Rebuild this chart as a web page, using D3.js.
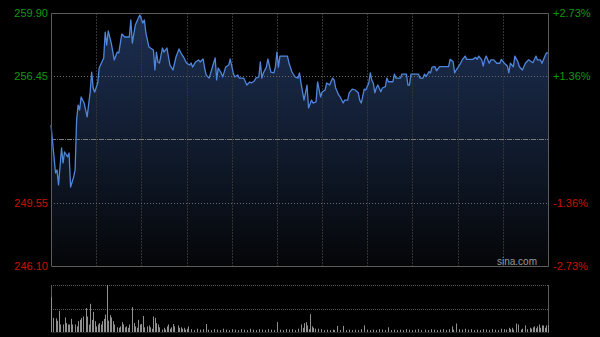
<!DOCTYPE html>
<html>
<head>
<meta charset="utf-8">
<script src="https://cdn.jsdelivr.net/npm/d3@7"></script>
<style>
  html, body { margin: 0; padding: 0; background: #000; }
  svg { display: block; }
</style>
</head>
<body>
<div id="chart"></div>
<script>
// intraday price, minute index from the open (330 trading minutes)
var minuteIdx = [0,3,4,5,7,8,9,11,12,13,15,16,17,18,19,20,22,24,26,27,28,29,31,32,35,36,37,38,40,42,44,45,47,49,52,53,54,56,58,59,61,62,63,65,68,
  69,70,71,72,74,75,77,78,79,81,83,85,87,88,90,92,93,94,96,98,99,101,102,103,105,107,109,110,111,113,114,116,118,119,121,122,124,125,128,130,132,133,135,
  136,138,139,140,141,143,144,146,148,149,150,151,152,154,157,158,160,162,164,165,166,168,170,171,173,174,176,177,179,180,182,183,185,187,188,189,191,192,194,195,197,198,
  200,202,204,205,206,208,209,211,212,213,214,215,216,217,219,220,222,223,224,227,228,229,232,233,236,237,238,239,244,245,247,248,249,251,252,253,255,256,258,262,264,265,
  267,268,269,270,272,273,275,276,278,280,282,283,284,286,287,288,289,291,292,294,296,298,299,301,303,304,305,307,308,310,311,313,315,317,318,320,322,323,325,326,328,329,330];
var prices = [253.79,251.17,251.34,250.52,252.54,251.72,252.32,252.05,252.26,250.41,250.95,251.34,254.06,254.88,254.61,255.32,254.99,254.23,255.59,256.68,255.81,255.59,256.08,256.90,257.45,258.86,258.15,258.92,258.26,257.34,257.77,257.72,258.75,258.59,258.59,259.52,258.26,259.25,259.63,259.79,259.35,259.52,258.81,258.05,257.88,
  256.79,257.77,257.23,257.17,257.99,257.77,257.99,257.50,257.06,256.79,257.50,257.94,257.61,257.50,257.17,257.06,257.17,256.95,257.23,257.34,257.23,257.39,256.90,256.52,256.35,256.90,257.45,256.25,256.90,256.63,256.41,256.95,257.06,257.39,256.63,256.41,256.52,256.35,256.35,255.97,256.14,256.08,256.19,
  256.35,256.41,257.23,256.35,256.63,256.95,257.39,256.68,256.63,256.95,257.77,256.95,257.55,257.55,257.55,257.17,256.68,256.41,256.35,256.63,256.08,255.15,255.97,254.72,255.15,254.99,255.05,256.14,255.32,255.59,255.70,256.08,255.97,256.35,256.25,255.81,255.43,255.32,254.99,255.15,255.15,255.54,
  255.75,255.70,255.55,255.15,254.99,255.75,255.70,256.08,256.63,256.25,256.08,255.55,255.81,255.97,255.61,255.81,255.88,256.35,256.15,256.15,256.57,256.35,256.35,256.57,256.57,255.97,255.97,256.57,256.57,256.35,256.35,256.57,256.43,256.70,256.63,256.95,256.97,256.75,256.97,256.97,256.97,257.37,
  257.24,256.63,256.79,256.90,257.17,257.34,257.55,257.37,257.37,257.37,257.48,257.37,257.55,257.34,257.01,257.37,257.55,257.16,257.34,257.34,257.16,257.16,257.37,257.16,257.01,256.63,257.16,256.97,257.55,257.24,256.97,256.79,257.16,257.34,257.30,257.19,257.55,257.34,257.34,257.16,257.55,257.73,257.73];

// volume bars (minute index, volume)
var volMinutes = [0,1,3,4,5,6,8,9,10,11,12,13,14,16,17,18,19,20,21,23,24,25,26,27,28,29,30,31,32,33,34,35,36,37,38,39,40,41,42,44,45,46,47,48,49,50,51,52,54,55,56,57,58,59,60,61,62,64,65,66,67,68,69,70,71,72,74,75,76,77,78,79,80,81,82,84,85,86,87,88,89,90,91,
  93,95,97,99,101,103,104,106,108,110,112,114,116,118,120,122,124,126,128,130,132,134,136,138,140,142,144,146,148,150,152,154,156,158,160,162,164,166,167,168,169,170,171,172,173,174,175,177,179,181,183,185,187,188,190,192,194,196,198,
  200,202,204,206,208,210,212,214,216,218,220,222,224,226,228,230,232,234,236,238,240,242,244,246,248,250,252,254,256,258,260,262,264,266,267,269,271,273,275,277,279,281,283,285,287,289,291,293,295,297,299,
  301,302,304,305,306,307,309,310,312,313,315,316,318,319,320,321,322,323,324,325,326,327,328,329,330];
var volValues = [740,300,290,240,450,160,160,310,190,160,160,280,160,160,120,230,260,300,330,510,330,160,600,260,430,230,120,160,190,160,230,280,370,1000,240,360,310,230,160,100,90,120,210,160,100,120,90,160,530,190,120,90,260,160,170,340,100,120,140,100,70,330,300,190,160,100,50,90,50,120,160,70,100,170,120,140,90,100,70,90,50,70,120,
  60,40,70,50,60,170,50,40,60,50,40,70,50,40,60,50,40,60,50,40,70,50,40,60,50,40,60,50,40,210,50,40,60,50,60,40,70,160,90,190,210,140,60,380,120,90,70,70,60,40,50,40,50,40,130,40,130,40,50,
  40,50,40,60,140,50,40,50,40,60,50,40,100,40,50,40,50,40,60,50,40,50,60,40,50,40,60,50,40,50,60,40,60,120,50,180,60,50,70,50,60,40,50,40,60,50,40,60,50,40,70,
  60,50,90,60,90,50,180,160,50,70,140,60,90,70,100,120,80,120,160,90,140,140,90,140,150];

var prevClose = 253.00;
var priceMin = 246.10, priceMax = 259.90;
var leftTicks = [259.90, 256.45, 249.55, 246.10];
var rightTickLabels = ["+2.73%", "+1.36%", "-1.36%", "-2.73%"];
var totalMinutes = 330;
var gridMinutes = [30, 60, 90, 120, 150, 180, 210, 240, 270, 300];

var W = 600, H = 337;
var plot = {left: 51, right: 548, top: 13, bottom: 266};
var vol = {top: 285, bottom: 332};

var svg = d3.select("#chart").append("svg")
    .attr("width", W)
    .attr("height", H)
    .style("background", "#000");

var x = d3.scaleLinear().domain([0, totalMinutes]).range([plot.left, plot.right]);
var y = d3.scaleLinear().domain([priceMin, priceMax]).range([plot.bottom, plot.top]);
var yv = d3.scaleLinear().domain([0, d3.max(volValues)]).range([vol.bottom, vol.top]);

var data = minuteIdx.map(function(m, i) { return [m, prices[i]]; });

// area gradient
var defs = svg.append("defs");
var grad = defs.append("linearGradient")
    .attr("id", "areaGrad")
    .attr("gradientUnits", "userSpaceOnUse")
    .attr("x1", 0).attr("y1", plot.top)
    .attr("x2", 0).attr("y2", plot.bottom);
grad.append("stop").attr("offset", "0%").attr("stop-color", "#1c2f52");
grad.append("stop").attr("offset", "55%").attr("stop-color", "#101a2c");
grad.append("stop").attr("offset", "100%").attr("stop-color", "#050608");

var area = d3.area()
    .x(function(d) { return x(d[0]); })
    .y0(plot.bottom)
    .y1(function(d) { return y(d[1]); });

svg.append("path")
    .attr("d", area(data))
    .attr("fill", "url(#areaGrad)");

// vertical grid
svg.append("g").selectAll("line")
    .data(gridMinutes)
    .enter().append("line")
    .attr("x1", function(d) { return Math.round(x(d)) + 0.5; })
    .attr("x2", function(d) { return Math.round(x(d)) + 0.5; })
    .attr("y1", plot.top)
    .attr("y2", plot.bottom)
    .attr("stroke", "#333")
    .attr("stroke-dasharray", "2,1");

// horizontal dotted grid
svg.append("g").selectAll("line")
    .data([leftTicks[1], leftTicks[2]])
    .enter().append("line")
    .attr("x1", plot.left)
    .attr("x2", plot.right)
    .attr("y1", function(d) { return Math.round(y(d)) + 0.5; })
    .attr("y2", function(d) { return Math.round(y(d)) + 0.5; })
    .attr("stroke", "#6a6a6a")
    .attr("stroke-dasharray", "1,2");

// previous close line
svg.append("line")
    .attr("x1", plot.left)
    .attr("x2", plot.right)
    .attr("y1", Math.round(y(prevClose)) + 0.5)
    .attr("y2", Math.round(y(prevClose)) + 0.5)
    .attr("stroke", "#7a7a7a")
    .attr("stroke-dasharray", "5,1,1,1");

// price line
var line = d3.line()
    .x(function(d) { return x(d[0]); })
    .y(function(d) { return y(d[1]); });

svg.append("path")
    .attr("d", line(data))
    .attr("fill", "none")
    .attr("stroke", "#4f86dc")
    .attr("stroke-width", 1.3)
    .attr("stroke-linejoin", "round");

// frame
svg.append("path")
    .attr("d", "M" + (plot.left + 0.5) + "," + plot.bottom + "V" + (plot.top + 0.5) + "H" + (plot.right + 0.5) + "V" + (plot.bottom + 0.5) + "H" + (plot.left + 0.5))
    .attr("fill", "none")
    .attr("stroke", "#5c5c5c");

// labels
var font = "Arial, 'Liberation Sans', sans-serif";
svg.append("g").selectAll("text")
    .data(leftTicks)
    .enter().append("text")
    .attr("x", 48)
    .attr("y", function(d) { return y(d); })
    .attr("dy", "0.35em")
    .attr("text-anchor", "end")
    .attr("font-family", font)
    .attr("font-size", "11px")
    .attr("fill", function(d) { return d > prevClose ? "#119911" : "#cc1100"; })
    .text(function(d) { return d.toFixed(2); });

svg.append("g").selectAll("text")
    .data(rightTickLabels)
    .enter().append("text")
    .attr("x", 553)
    .attr("y", function(d, i) { return y(leftTicks[i]); })
    .attr("dy", "0.35em")
    .attr("font-family", font)
    .attr("font-size", "11px")
    .attr("fill", function(d) { return d[0] == "+" ? "#119911" : "#cc1100"; })
    .text(function(d) { return d; });

svg.append("text")
    .attr("x", 537)
    .attr("y", 265)
    .attr("text-anchor", "end")
    .attr("font-family", font)
    .attr("font-size", "10px")
    .attr("fill", "#9a9a9a")
    .text("sina.com");

// volume panel
svg.append("g").selectAll("line")
    .data([vol.top, (vol.top + vol.bottom) / 2])
    .enter().append("line")
    .attr("x1", plot.left)
    .attr("x2", plot.right)
    .attr("y1", function(d) { return Math.round(d) + 0.5; })
    .attr("y2", function(d) { return Math.round(d) + 0.5; })
    .attr("stroke", "#5a5a5a")
    .attr("stroke-dasharray", "1,1");

svg.append("g").selectAll("line")
    .data([plot.left, plot.right])
    .enter().append("line")
    .attr("x1", function(d) { return d + 0.5; })
    .attr("x2", function(d) { return d + 0.5; })
    .attr("y1", vol.top)
    .attr("y2", vol.bottom + 1)
    .attr("stroke", "#5c5c5c");

svg.append("line")
    .attr("x1", plot.left)
    .attr("x2", plot.right)
    .attr("y1", vol.bottom + 0.5)
    .attr("y2", vol.bottom + 0.5)
    .attr("stroke", "#222");

svg.append("g").selectAll("rect")
    .data(volMinutes)
    .enter().append("rect")
    .attr("x", function(d) { return Math.round(x(d)); })
    .attr("y", function(d, i) { return yv(volValues[i]); })
    .attr("width", 1)
    .attr("height", function(d, i) { return vol.bottom - yv(volValues[i]); })
    .attr("fill", "#909090");
</script>
</body>
</html>
